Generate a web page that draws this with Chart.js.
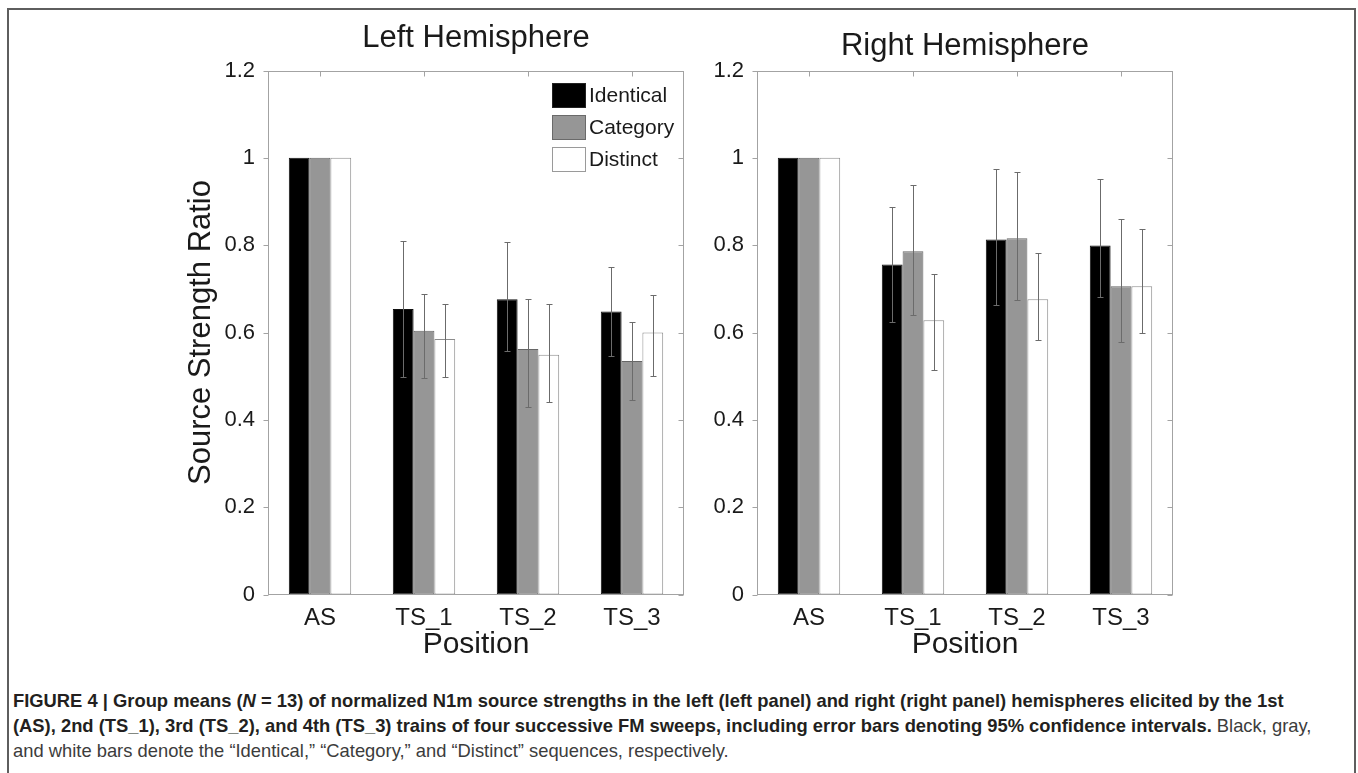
<!DOCTYPE html>
<html>
<head>
<meta charset="utf-8">
<title>Source Strength Ratio by Position</title>
<script src="https://cdn.jsdelivr.net/npm/chart.js@4.4.1/dist/chart.umd.min.js"></script>
<style>
  html, body { margin: 0; padding: 0; background: #ffffff; }
  body { width: 1358px; height: 773px; position: relative; overflow: hidden;
         font-family: "Liberation Sans", Arial, Helvetica, sans-serif; }
  #frame { position: absolute; left: 7px; top: 8px; width: 1349px; height: 820px;
           border: 2px solid #5e5e5e; box-sizing: border-box; }
  #leftWrap  { position: absolute; left: 140px; top: 0; width: 560px; height: 680px; }
  #rightWrap { position: absolute; left: 707px; top: 0; width: 480px; height: 680px; }
  #caption { position: absolute; left: 13px; top: 688px; line-height: 25px;
             color: #231f20; white-space: nowrap; font-size: 15.5px; }
  #caption .line { display: block; }
  #caption b { font-weight: bold; }
  #caption .plain { color: #3c3c3c; }
</style>
</head>
<body>
<div id="frame"></div>
<div id="leftWrap"><canvas id="leftChart" width="560" height="680"></canvas></div>
<div id="rightWrap"><canvas id="rightChart" width="480" height="680"></canvas></div>
<div id="caption">
  <span class="line" id="capLine1"><b>FIGURE 4 | Group means (<i>N</i> = 13) of normalized N1m source strengths in the left (left panel) and right (right panel) hemispheres elicited by the 1st</b></span>
  <span class="line"><b>(AS), 2nd (TS_1), 3rd (TS_2), and 4th (TS_3) trains of four successive FM sweeps, including error bars denoting 95% confidence intervals.</b><span class="plain"> Black, gray,</span></span>
  <span class="line plain">and white bars denote the “Identical,” “Category,” and “Distinct” sequences, respectively.</span>
</div>
<script>
// ---- data -------------------------------------------------------------
const categories = ['AS', 'TS_1', 'TS_2', 'TS_3'];
const seriesNames = ['Identical', 'Category', 'Distinct'];
const yTickLabels = ['0', '0.2', '0.4', '0.6', '0.8', '1', '1.2'];

// Left hemisphere: group means and 95% confidence bounds
const leftIdentical      = [1.000, 0.654, 0.676, 0.648];
const leftIdenticalLow   = [null,  0.498, 0.557, 0.546];
const leftIdenticalHigh  = [null,  0.809, 0.808, 0.749];
const leftCategory       = [1.000, 0.604, 0.562, 0.535];
const leftCategoryLow    = [null,  0.496, 0.430, 0.445];
const leftCategoryHigh   = [null,  0.689, 0.676, 0.623];
const leftDistinct       = [1.000, 0.585, 0.549, 0.600];
const leftDistinctLow    = [null,  0.497, 0.441, 0.501];
const leftDistinctHigh   = [null,  0.665, 0.665, 0.685];

// Right hemisphere: group means and 95% confidence bounds
const rightIdentical     = [1.000, 0.756, 0.813, 0.799];
const rightIdenticalLow  = [null,  0.623, 0.664, 0.681];
const rightIdenticalHigh = [null,  0.887, 0.975, 0.951];
const rightCategory      = [1.000, 0.786, 0.816, 0.706];
const rightCategoryLow   = [null,  0.640, 0.674, 0.578];
const rightCategoryHigh  = [null,  0.937, 0.968, 0.861];
const rightDistinct      = [1.000, 0.628, 0.676, 0.706];
const rightDistinctLow   = [null,  0.513, 0.582, 0.600];
const rightDistinctHigh  = [null,  0.734, 0.783, 0.838];

// ---- styling ------------------------------------------------------------
const barFills   = ['#000000', '#969696', '#ffffff'];
const barBorders = ['#111111', '#666666', '#8c8c8c'];
const textColor  = '#1a1a1a';
const FONT = '"Liberation Sans", Arial, Helvetica, sans-serif';
Chart.defaults.font.family = FONT;
Chart.defaults.color = textColor;

// MATLAB-style axes box with tick marks, drawn from the chart's own scales
const axesBoxPlugin = {
  id: 'axesBox',
  afterDraw(chart, args, o) {
    const { ctx, chartArea: a, scales: { x, y } } = chart;
    const L = Math.round(a.left) + 0.5, R = Math.round(a.right) - 0.5;
    const T = Math.round(a.top) + 0.5, B = Math.round(a.bottom) - 0.5;
    ctx.save();
    ctx.strokeStyle = o.color;
    ctx.lineWidth = 1;
    ctx.strokeRect(L, T, R - L, B - T);
    ctx.beginPath();
    y.ticks.forEach(t => {
      const py = Math.round(y.getPixelForValue(t.value)) + 0.5;
      ctx.moveTo(L - o.tick, py); ctx.lineTo(L, py);
      ctx.moveTo(R - o.tick, py); ctx.lineTo(R, py);
    });
    x.ticks.forEach((t, i) => {
      const px = Math.round(x.getPixelForTick(i)) + 0.5;
      ctx.moveTo(px, T); ctx.lineTo(px, T + o.tick);
    });
    ctx.stroke();
    ctx.restore();
  }
};

// vertical confidence-interval bars with end caps
const errorBarPlugin = {
  id: 'errorBars',
  afterDatasetsDraw(chart, args, o) {
    const { ctx, scales: { y } } = chart;
    ctx.save();
    ctx.strokeStyle = o.color;
    ctx.lineWidth = 1;
    chart.data.datasets.forEach((ds, i) => {
      const meta = chart.getDatasetMeta(i);
      meta.data.forEach((bar, j) => {
        const lo = ds.errLow[j], hi = ds.errHigh[j];
        if (lo == null || hi == null) return;
        const px = Math.round(bar.x) + 0.5;
        const y1 = Math.round(y.getPixelForValue(lo)) + 0.5;
        const y2 = Math.round(y.getPixelForValue(hi)) + 0.5;
        ctx.beginPath();
        ctx.moveTo(px, y1); ctx.lineTo(px, y2);
        ctx.moveTo(px - o.cap, y1); ctx.lineTo(px + o.cap, y1);
        ctx.moveTo(px - o.cap, y2); ctx.lineTo(px + o.cap, y2);
        ctx.stroke();
      });
    });
    ctx.restore();
  }
};

// legend with filled swatches in the upper-right corner of the axes
const swatchLegendPlugin = {
  id: 'swatchLegend',
  afterDraw(chart, args, o) {
    if (!o.show) return;
    const { ctx, chartArea: a } = chart;
    ctx.save();
    ctx.font = `${o.fontSize}px ${FONT}`;
    ctx.textBaseline = 'middle';
    ctx.textAlign = 'left';
    chart.data.datasets.forEach((ds, i) => {
      const sx = Math.round(a.right - o.offsetRight);
      const sy = Math.round(a.top + o.offsetTop + i * o.pitch);
      ctx.fillStyle = ds.backgroundColor;
      ctx.fillRect(sx, sy, o.w, o.h);
      ctx.strokeStyle = o.edges[i];
      ctx.lineWidth = 1;
      ctx.strokeRect(sx + 0.5, sy + 0.5, o.w - 1, o.h - 1);
      ctx.fillStyle = textColor;
      ctx.fillText(ds.label, sx + o.w + 3, sy + o.h / 2 + 1);
    });
    ctx.restore();
  }
};

function makeDatasets(means, lows, highs) {
  return seriesNames.map((name, i) => ({
    label: name,
    data: means[i],
    errLow: lows[i],
    errHigh: highs[i],
    backgroundColor: barFills[i],
    borderColor: barBorders[i],
    borderWidth: 1,
    borderSkipped: false,
    barPercentage: 1.0,
    categoryPercentage: 0.6
  }));
}

function makePanel(canvasId, titleText, datasets, cfg) {
  return new Chart(document.getElementById(canvasId), {
    type: 'bar',
    data: { labels: categories, datasets },
    plugins: [axesBoxPlugin, errorBarPlugin, swatchLegendPlugin],
    options: {
      responsive: false,
      animation: false,
      events: [],
      layout: { padding: { left: 0, right: cfg.padRight, top: 0, bottom: 0 } },
      plugins: {
        legend: { display: false },
        tooltip: { enabled: false },
        title: {
          display: true,
          text: titleText,
          fullSize: false,
          color: textColor,
          font: { size: 31, weight: 'normal', lineHeight: 1.2 },
          padding: cfg.titlePad
        },
        axesBox: { color: '#a3a3a3', tick: 5 },
        errorBars: { color: '#6b6b6b', cap: 3 },
        swatchLegend: {
          show: cfg.legend, fontSize: 21,
          offsetRight: 132, offsetTop: 12, pitch: 32, w: 34, h: 25,
          edges: ['#222222', '#6a6a6a', '#9a9a9a']
        }
      },
      scales: {
        x: {
          type: 'category',
          offset: true,
          grid: { display: false },
          border: { display: false },
          ticks: { font: { size: 24 }, color: textColor, padding: 1,
                   maxRotation: 0, autoSkip: false },
          title: { display: true, text: 'Position', color: textColor,
                   font: { size: 30, lineHeight: 1.2 },
                   padding: { top: 0, bottom: 17 } },
          afterFit(scale) { scale.height = 85.5; }
        },
        y: {
          min: 0, max: 1.2,
          grid: { display: false },
          border: { display: false },
          ticks: {
            stepSize: 0.2,
            font: { size: 22 }, color: textColor, padding: 5,
            callback: v => yTickLabels[Math.round(v / 0.2)]
          },
          title: { display: cfg.yTitle, text: 'Source Strength Ratio', color: textColor,
                   font: { size: 31, lineHeight: 1.2 },
                   padding: { top: 43, bottom: 0 } },
          afterFit(scale) { scale.width = cfg.yWidth; }
        }
      }
    }
  });
}

makePanel('leftChart', 'Left Hemisphere',
  makeDatasets([leftIdentical, leftCategory, leftDistinct],
               [leftIdenticalLow, leftCategoryLow, leftDistinctLow],
               [leftIdenticalHigh, leftCategoryHigh, leftDistinctHigh]),
  { padRight: 16, yWidth: 128, yTitle: true, legend: true,
    titlePad: { top: 20, bottom: 13.3 } });

makePanel('rightChart', 'Right Hemisphere',
  makeDatasets([rightIdentical, rightCategory, rightDistinct],
               [rightIdenticalLow, rightCategoryLow, rightDistinctLow],
               [rightIdenticalHigh, rightCategoryHigh, rightDistinctHigh]),
  { padRight: 14, yWidth: 50, yTitle: false, legend: false,
    titlePad: { top: 28, bottom: 5.3 } });

// size the caption so its first line spans the printed text width
(function fitCaption() {
  const cap = document.getElementById('caption');
  const line1 = document.getElementById('capLine1');
  const target = 1300;
  const w = line1.getBoundingClientRect().width;
  if (w > 0) {
    const size = parseFloat(getComputedStyle(cap).fontSize) * target / w;
    cap.style.fontSize = size.toFixed(2) + 'px';
  }
})();
</script>
</body>
</html>
